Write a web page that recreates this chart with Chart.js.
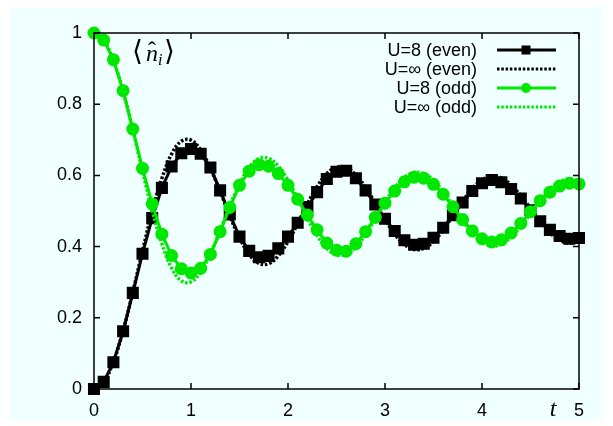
<!DOCTYPE html>
<html>
<head>
<meta charset="utf-8">
<script src="https://cdn.jsdelivr.net/npm/chart.js@4.4.1/dist/chart.umd.min.js"></script>
<style>
  html, body { margin: 0; padding: 0; background: #ffffff; }
  #wrap { position: relative; width: 613px; height: 426px; }
</style>
</head>
<body>
<div id="wrap"><canvas id="chart" width="613" height="426"></canvas></div>
<script>
// time grid
const times = [0, 0.1, 0.2, 0.3, 0.4, 0.5, 0.6, 0.7, 0.8, 0.9,
  1.0, 1.1, 1.2, 1.3, 1.4, 1.5, 1.6, 1.7, 1.8, 1.9,
  2.0, 2.1, 2.2, 2.3, 2.4, 2.5, 2.6, 2.7, 2.8, 2.9,
  3.0, 3.1, 3.2, 3.3, 3.4, 3.5, 3.6, 3.7, 3.8, 3.9,
  4.0, 4.1, 4.2, 4.3, 4.4, 4.5, 4.6, 4.7, 4.8, 4.9, 5.0];

// U=8, even site
const evenU8 = [0.000, 0.020, 0.075, 0.162, 0.270, 0.380, 0.480, 0.565, 0.625, 0.662,
  0.674, 0.661, 0.622, 0.558, 0.490, 0.428, 0.388, 0.370, 0.374, 0.395,
  0.428, 0.467, 0.511, 0.553, 0.590, 0.610, 0.613, 0.592, 0.558, 0.518,
  0.478, 0.444, 0.418, 0.405, 0.408, 0.425, 0.453, 0.488, 0.524, 0.556,
  0.578, 0.587, 0.581, 0.562, 0.535, 0.502, 0.471, 0.447, 0.430, 0.422, 0.424];

// U=inf, even site
const evenUinf = [0.000, 0.020, 0.077, 0.164, 0.272, 0.388, 0.499, 0.592, 0.660, 0.696,
  0.699, 0.671, 0.620, 0.555, 0.486, 0.425, 0.378, 0.353, 0.352, 0.374,
  0.414, 0.465, 0.520, 0.568, 0.605, 0.623, 0.622, 0.601, 0.566, 0.522,
  0.476, 0.435, 0.406, 0.392, 0.395, 0.414, 0.447, 0.486, 0.527, 0.563,
  0.587, 0.598, 0.593, 0.573, 0.543, 0.507, 0.470, 0.439, 0.418, 0.410, 0.416];

// U=8, odd site
const oddU8 = [1.000, 0.980, 0.925, 0.838, 0.730, 0.620, 0.520, 0.435, 0.375, 0.338,
  0.326, 0.339, 0.378, 0.442, 0.510, 0.572, 0.612, 0.630, 0.626, 0.605,
  0.572, 0.533, 0.489, 0.447, 0.410, 0.390, 0.387, 0.408, 0.442, 0.482,
  0.522, 0.556, 0.582, 0.595, 0.592, 0.575, 0.547, 0.512, 0.476, 0.444,
  0.422, 0.413, 0.419, 0.438, 0.465, 0.498, 0.529, 0.553, 0.570, 0.578, 0.576];

// U=inf, odd site
const oddUinf = [1.000, 0.980, 0.923, 0.836, 0.728, 0.612, 0.501, 0.408, 0.340, 0.304,
  0.301, 0.329, 0.380, 0.445, 0.514, 0.575, 0.622, 0.647, 0.648, 0.626,
  0.586, 0.535, 0.480, 0.432, 0.395, 0.377, 0.378, 0.399, 0.434, 0.478,
  0.524, 0.565, 0.594, 0.608, 0.605, 0.586, 0.553, 0.514, 0.473, 0.437,
  0.413, 0.402, 0.407, 0.427, 0.457, 0.493, 0.530, 0.561, 0.582, 0.590, 0.584];

const seriesNames = ['U=8 (even)', 'U=\u221e (even)', 'U=8 (odd)', 'U=\u221e (odd)'];
const xTicks = [0, 1, 2, 3, 4, 5];
const yTicks = [0, 0.2, 0.4, 0.6, 0.8, 1];
const yTickLabels = ['0', '0.2', '0.4', '0.6', '0.8', '1'];

const BLACK = '#000000';
const GREEN = '#00e800';

const toXY = ys => times.map((t, i) => ({ x: t, y: ys[i] }));

// background, box, inward ticks, legend and labels
const decor = {
    id: 'decor',
    beforeDraw(chart) {
        const c = chart.ctx;
        c.save();
        c.fillStyle = '#ffffff';
        c.fillRect(0, 0, chart.width, chart.height);
        c.fillStyle = '#f0ffff';
        c.fillRect(10, 7, 593, 413);
        c.restore();
    },
    afterDatasetsDraw(chart) {
        const c = chart.ctx;
        const a = chart.chartArea;
        const xs = chart.scales.x, ys = chart.scales.y;
        c.save();
        c.strokeStyle = '#000';
        c.lineWidth = 1.5;
        c.beginPath();
        xTicks.forEach(v => {
            const px = xs.getPixelForValue(v);
            c.moveTo(px, a.bottom); c.lineTo(px, a.bottom - 6);
            c.moveTo(px, a.top); c.lineTo(px, a.top + 6);
        });
        yTicks.forEach(v => {
            const py = ys.getPixelForValue(v);
            c.moveTo(a.left, py); c.lineTo(a.left + 6, py);
            c.moveTo(a.right, py); c.lineTo(a.right - 6, py);
        });
        c.stroke();
        c.strokeRect(a.left, a.top, a.right - a.left, a.bottom - a.top);

        // legend
        const rows = [50, 69, 88, 107];
        const styles = [
            { color: BLACK, dash: [], marker: 'rect' },
            { color: BLACK, dash: [2.5, 1.8], marker: null },
            { color: GREEN, dash: [], marker: 'circle' },
            { color: GREEN, dash: [2.5, 1.8], marker: null }
        ];
        c.font = '18px "Liberation Sans", Arial, sans-serif';
        c.textAlign = 'right';
        c.textBaseline = 'middle';
        rows.forEach((ry, i) => {
            c.fillStyle = '#000';
            c.fillText(seriesNames[i], 477, ry + 1);
            const s = styles[i];
            c.strokeStyle = s.color;
            c.lineWidth = 3;
            c.setLineDash(s.dash);
            c.beginPath();
            c.moveTo(497, ry); c.lineTo(556, ry);
            c.stroke();
            c.setLineDash([]);
            c.fillStyle = s.color;
            if (s.marker === 'rect') {
                c.fillRect(526 - 4.5, ry - 4.5, 9, 9);
            } else if (s.marker === 'circle') {
                c.beginPath(); c.arc(526, ry, 5, 0, Math.PI * 2); c.fill();
            }
        });

        // axis label t
        c.fillStyle = '#000';
        c.textAlign = 'center';
        c.textBaseline = 'middle';
        c.font = 'italic 24px "Liberation Serif", "DejaVu Serif", serif';
        c.fillText('t', 553, 410);

        // <n_i> label
        c.textAlign = 'left';
        c.font = '28px "DejaVu Serif", serif';
        c.fillText('\u27e8', 132, 53);
        c.font = 'italic 24px "Liberation Serif", serif';
        c.fillText('n', 146, 55);
        c.font = '24px "Liberation Serif", serif';
        c.fillText('\u02c6', 148, 52);
        c.font = 'italic 16px "Liberation Serif", serif';
        c.fillText('i', 158, 61);
        c.font = '28px "DejaVu Serif", serif';
        c.fillText('\u27e9', 164, 53);
        c.restore();
    }
};

new Chart(document.getElementById('chart'), {
    type: 'scatter',
    data: {
        datasets: [
            {
                label: seriesNames[0], data: toXY(evenU8), showLine: true,
                borderColor: BLACK, backgroundColor: BLACK, borderWidth: 3,
                pointStyle: 'rect', pointRadius: 6.4, pointHoverRadius: 6.4,
                tension: 0, clip: false, order: 3
            },
            {
                label: seriesNames[1], data: toXY(evenUinf), showLine: true,
                borderColor: BLACK, borderWidth: 3.5, borderDash: [2.5, 1.8],
                pointRadius: 0, tension: 0.4, clip: false, order: 2
            },
            {
                label: seriesNames[2], data: toXY(oddU8), showLine: true,
                borderColor: GREEN, backgroundColor: GREEN, borderWidth: 3,
                pointStyle: 'circle', pointRadius: 5, pointHoverRadius: 5,
                tension: 0, clip: false, order: 1
            },
            {
                label: seriesNames[3], data: toXY(oddUinf), showLine: true,
                borderColor: GREEN, borderWidth: 3.5, borderDash: [2.5, 1.8],
                pointRadius: 0, tension: 0.4, clip: false, order: 0
            }
        ]
    },
    options: {
        responsive: false,
        animation: false,
        events: [],
        layout: { padding: { left: 0, right: 34, top: 33, bottom: 0 } },
        plugins: { legend: { display: false }, tooltip: { enabled: false } },
        scales: {
            x: {
                type: 'linear', min: 0, max: 5,
                afterFit(s) { s.height = 37; },
                afterBuildTicks(s) { s.ticks = xTicks.map(v => ({ value: v })); },
                grid: { display: false, drawTicks: false },
                border: { display: false },
                ticks: {
                    padding: 11, color: '#000',
                    font: { family: '"Liberation Sans", Arial, sans-serif', size: 18 },
                    callback: v => String(v)
                }
            },
            y: {
                type: 'linear', min: 0, max: 1,
                afterFit(s) { s.width = 94; },
                afterBuildTicks(s) { s.ticks = yTicks.map(v => ({ value: v })); },
                grid: { display: false, drawTicks: false },
                border: { display: false },
                ticks: {
                    padding: 12, color: '#000',
                    font: { family: '"Liberation Sans", Arial, sans-serif', size: 18 },
                    callback: v => yTickLabels[yTicks.findIndex(t => Math.abs(t - v) < 1e-9)]
                }
            }
        }
    },
    plugins: [decor]
});
</script>
</body>
</html>
